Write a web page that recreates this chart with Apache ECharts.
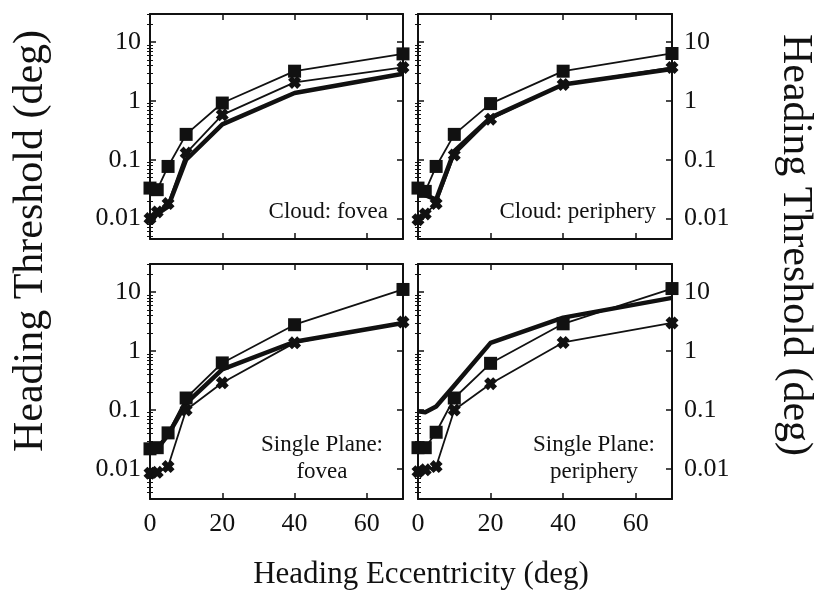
<!DOCTYPE html>
<html>
<head>
<meta charset="utf-8">
<script src="https://cdn.jsdelivr.net/npm/echarts@6/dist/echarts.min.js"></script>
<style>
  html, body { margin: 0; padding: 0; background: #ffffff; }
  #chart { width: 816px; height: 590px; }
</style>
</head>
<body>
<div id="chart"></div>
<script>
// Heading eccentricity (deg) at which thresholds were measured
const eccentricity = [0, 2, 5, 10, 20, 40, 70];
const xTickValues = [0, 20, 40, 60];
const yTickValues = [0.01, 0.1, 1, 10];

// Cloud: fovea
const cloudFoveaSquare = [0.033, 0.031, 0.077, 0.27, 0.92, 3.2, 6.3];
const cloudFoveaCross  = [0.0100, 0.013, 0.018, 0.13, 0.58, 2.06, 3.7];
const cloudFoveaThick  = [0.0085, 0.012, 0.016, 0.10, 0.40, 1.36, 2.9];

// Cloud: periphery
const cloudPeriphSquare = [0.033, 0.029, 0.077, 0.27, 0.90, 3.2, 6.4];
const cloudPeriphCross  = [0.0096, 0.012, 0.018, 0.12, 0.49, 1.9, 3.7];
const cloudPeriphThick  = [0.028, 0.025, 0.021, 0.14, 0.52, 1.9, 3.5];

// Single Plane: fovea
const planeFoveaSquare = [0.022, 0.023, 0.041, 0.16, 0.63, 2.8, 11.1];
const planeFoveaCross  = [0.0085, 0.0088, 0.011, 0.10, 0.29, 1.38, 3.1];
const planeFoveaThick  = [0.021, 0.022, 0.038, 0.13, 0.49, 1.44, 3.0];

// Single Plane: periphery
const planePeriphSquare = [0.023, 0.023, 0.042, 0.16, 0.62, 2.9, 11.5];
const planePeriphCross  = [0.0090, 0.0097, 0.011, 0.10, 0.28, 1.4, 3.0];
const planePeriphThick  = [0.095, 0.092, 0.115, 0.26, 1.38, 3.7, 8.0];

const panelTitles = [
  ['Cloud: fovea'],
  ['Cloud: periphery'],
  ['Single Plane:', 'fovea'],
  ['Single Plane:', 'periphery']
];
const panelSeries = [
  [cloudFoveaThick, cloudFoveaCross, cloudFoveaSquare],
  [cloudPeriphThick, cloudPeriphCross, cloudPeriphSquare],
  [planeFoveaThick, planeFoveaCross, planeFoveaSquare],
  [planePeriphThick, planePeriphCross, planePeriphSquare]
];
const yTitle = 'Heading Threshold (deg)';
const xTitle = 'Heading Eccentricity (deg)';

// ---- layout & styling ----
const FONT = '"Liberation Serif", "Times New Roman", serif';
const INK = '#111111';
const boxes = [
  { left: 150, top: 14,  width: 253, height: 225, yMin: 0.0045, yMax: 30, labelSide: 'left',  showX: false },
  { left: 418, top: 14,  width: 254, height: 225, yMin: 0.0045, yMax: 30, labelSide: 'right', showX: false },
  { left: 150, top: 264, width: 253, height: 235, yMin: 0.0031, yMax: 30, labelSide: 'left',  showX: true },
  { left: 418, top: 264, width: 254, height: 235, yMin: 0.0031, yMax: 30, labelSide: 'right', showX: true }
];
const textSpots = [
  { x: 388, y: 198, align: 'right' },
  { x: 656, y: 198, align: 'right' },
  { x: 322, y: 431, align: 'center' },
  { x: 594, y: 431, align: 'center' }
];

// log-style minor tick positions (2..9 of every decade)
const minorTicks = [];
for (let e = -3; e <= 1; e++) {
  for (let m = 2; m <= 9; m++) minorTicks.push(+(m * Math.pow(10, e)).toPrecision(3));
}

// bold "x" marker
const crossPath = 'path://M0,3 L3,0 L5,2 L7,0 L10,3 L8,5 L10,7 L7,10 L5,8 L3,10 L0,7 L2,5 Z';

function powerLabel(v) {
  const hit = yTickValues.find(t => Math.abs(Math.log10(t) - Math.log10(v)) < 1e-6);
  return hit === undefined ? '' : String(hit);
}

const grid = [], xAxis = [], yAxis = [], series = [];
const lineStyleAxis = { show: true, onZero: false, lineStyle: { color: INK, width: 2 } };

boxes.forEach((b, g) => {
  grid.push({ left: b.left, top: b.top, width: b.width, height: b.height, containLabel: false, outerBoundsMode: 'none' });

  // bottom and top x axes
  ['bottom', 'top'].forEach(pos => {
    const labelled = pos === 'bottom' && b.showX;
    xAxis.push({
      type: 'value', gridIndex: g, position: pos, min: 0, max: 70, interval: 20,
      axisLine: lineStyleAxis,
      axisTick: { show: true, inside: true, length: 6, lineStyle: { color: INK, width: 1.5 } },
      axisLabel: {
        show: labelled, margin: 12, fontSize: 26, fontFamily: FONT, color: INK,
        showMaxLabel: false,
        formatter: v => (xTickValues.indexOf(v) >= 0 ? String(v) : '')
      },
      splitLine: { show: false }
    });
  });

  // main y axes (left, right) then minor-tick y axes (left, right)
  ['left', 'right'].forEach(pos => {
    yAxis.push({
      type: 'log', logBase: 10, gridIndex: g, position: pos, min: b.yMin, max: b.yMax,
      axisLine: lineStyleAxis,
      axisTick: { show: true, inside: true, length: 6, lineStyle: { color: INK, width: 1.5 } },
      axisLabel: {
        show: pos === b.labelSide, margin: pos === 'left' ? 9 : 12,
        fontSize: 26, fontFamily: FONT, color: INK, formatter: powerLabel
      },
      splitLine: { show: false }
    });
  });
  ['left', 'right'].forEach(pos => {
    yAxis.push({
      type: 'log', logBase: 10, gridIndex: g, position: pos, min: b.yMin, max: b.yMax,
      axisLine: { show: false },
      axisTick: { show: true, inside: true, length: 3, customValues: minorTicks, lineStyle: { color: INK, width: 1 } },
      axisLabel: { show: false },
      splitLine: { show: false }
    });
  });

  const [thick, cross, square] = panelSeries[g];
  const pts = arr => eccentricity.map((x, i) => [x, arr[i]]);
  const common = { type: 'line', xAxisIndex: 2 * g, yAxisIndex: 4 * g, silent: true, animation: false };
  series.push(Object.assign({}, common, {
    data: pts(thick), showSymbol: false, symbol: 'none',
    lineStyle: { color: INK, width: 4.5, join: 'round' }, z: 2
  }));
  series.push(Object.assign({}, common, {
    data: pts(cross), symbol: crossPath, symbolSize: 13,
    itemStyle: { color: INK }, lineStyle: { color: INK, width: 1.8 }, z: 3
  }));
  series.push(Object.assign({}, common, {
    data: pts(square), symbol: 'rect', symbolSize: 13,
    itemStyle: { color: INK }, lineStyle: { color: INK, width: 1.8 }, z: 4
  }));
});

const graphic = [];
panelTitles.forEach((lines, g) => {
  const s = textSpots[g];
  graphic.push({
    type: 'text', x: s.x, y: s.y, silent: true,
    style: {
      text: lines.join('\n'), fill: INK, font: '23px ' + FONT,
      align: s.align, verticalAlign: 'top', lineHeight: 27
    }
  });
});
graphic.push({
  type: 'text', x: 31, y: 241, rotation: Math.PI / 2, silent: true,
  style: { text: yTitle, fill: INK, font: '42px ' + FONT, align: 'center', verticalAlign: 'middle' }
});
graphic.push({
  type: 'text', x: 795, y: 245, rotation: -Math.PI / 2, silent: true,
  style: { text: yTitle, fill: INK, font: '42px ' + FONT, align: 'center', verticalAlign: 'middle' }
});
graphic.push({
  type: 'text', x: 421, y: 575, silent: true,
  style: { text: xTitle, fill: INK, font: '31px ' + FONT, align: 'center', verticalAlign: 'middle' }
});

const chart = echarts.init(document.getElementById('chart'), null, { renderer: 'canvas' });
chart.setOption({
  backgroundColor: '#ffffff',
  animation: false,
  grid, xAxis, yAxis, series, graphic
});
</script>
</body>
</html>
